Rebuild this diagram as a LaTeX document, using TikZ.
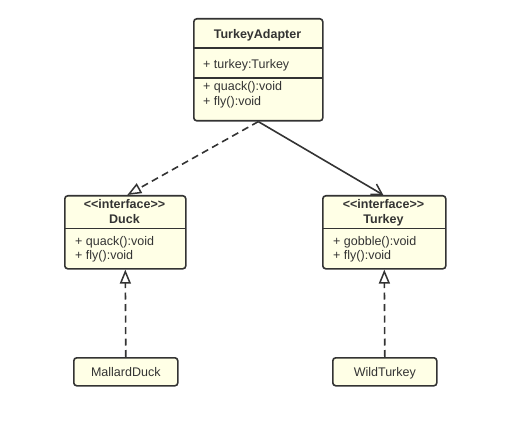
\documentclass[tikz,border=0pt]{standalone}
\usepackage{fontspec}
\setmainfont{Liberation Sans}
\usetikzlibrary{arrows.meta}
\definecolor{boxfill}{HTML}{FFFFE6}
\definecolor{ink}{HTML}{333333}
\begin{document}
\begin{tikzpicture}[x=1pt,y=-1pt,
  umlbox/.style={draw=ink, line width=1.6pt, fill=boxfill, rounded corners=3pt, anchor=north west, inner sep=0pt},
  divider/.style={draw=ink, line width=1.6pt},
  txt/.style={font=\fontsize{12.5}{14}\selectfont, text=ink, inner sep=0pt},
  conn/.style={draw=ink, line width=1.6pt},
  dashline/.style={dash pattern=on 7pt off 4.5pt},
  realize/.style={-{Triangle[open, length=14pt, width=11pt, line width=1.5pt]}},
  assoc/.style={-{Straight Barb[length=10pt, width=12pt, line width=1.5pt]}}
]
\useasboundingbox (0,0) rectangle (519,422);
% TurkeyAdapter
\node[umlbox, minimum width=129pt, minimum height=102pt] (adapter) at (193,18) {};
\draw[divider] (193,48.3) -- (322,48.3);
\draw[divider] (193,78.3) -- (322,78.3);
\node[txt, anchor=base, font=\fontsize{12.5}{14}\selectfont\bfseries] (adname) at (257.5,39) {TurkeyAdapter};
\node[txt, anchor=base west] (adattr) at (203,68.5) {+ turkey:Turkey};
\node[txt, anchor=base west] (adm1) at (203,91) {+ quack():void};
\node[txt, anchor=base west] (adm2) at (203,105.7) {+ fly():void};
% Duck
\node[umlbox, minimum width=121pt, minimum height=73pt] (duck) at (64,195) {};
\draw[divider] (64,228.3) -- (185,228.3);
\node[txt, anchor=base, font=\fontsize{12.5}{14}\selectfont\bfseries] (duckst) at (124.5,208) {{<}{<}interface{>}{>}};
\node[txt, anchor=base, font=\fontsize{12.5}{14}\selectfont\bfseries] (duckname) at (124.5,223) {Duck};
\node[txt, anchor=base west] (duckm1) at (75,245) {+ quack():void};
\node[txt, anchor=base west] (duckm2) at (75,259.5) {+ fly():void};
% Turkey
\node[umlbox, minimum width=123pt, minimum height=73pt] (turkey) at (322,195) {};
\draw[divider] (322,228.3) -- (445,228.3);
\node[txt, anchor=base, font=\fontsize{12.5}{14}\selectfont\bfseries] (turkeyst) at (383.5,208) {{<}{<}interface{>}{>}};
\node[txt, anchor=base, font=\fontsize{12.5}{14}\selectfont\bfseries] (turkeyname) at (383.5,223) {Turkey};
\node[txt, anchor=base west] (turkeym1) at (333,245) {+ gobble():void};
\node[txt, anchor=base west] (turkeym2) at (333,259.5) {+ fly():void};
% MallardDuck
\node[umlbox, minimum width=104pt, minimum height=28pt] (mallard) at (73,357) {};
\node[txt, anchor=base] (mallardname) at (mallard.center |- 0,376) {MallardDuck};
% WildTurkey
\node[umlbox, minimum width=104pt, minimum height=28pt] (wild) at (332,357) {};
\node[txt, anchor=base] (wildname) at (wild.center |- 0,376) {WildTurkey};
% connectors
\draw[conn, dashline, realize] (adapter.south) -- ([xshift=2pt]duck.north);
\draw[conn, assoc] (adapter.south) -- ([xshift=-1pt]turkey.north);
\draw[conn, dashline, realize] (mallard.north) -- (duck.south);
\draw[conn, dashline, realize] (wild.north) -- (turkey.south);
\end{tikzpicture}
\end{document}
